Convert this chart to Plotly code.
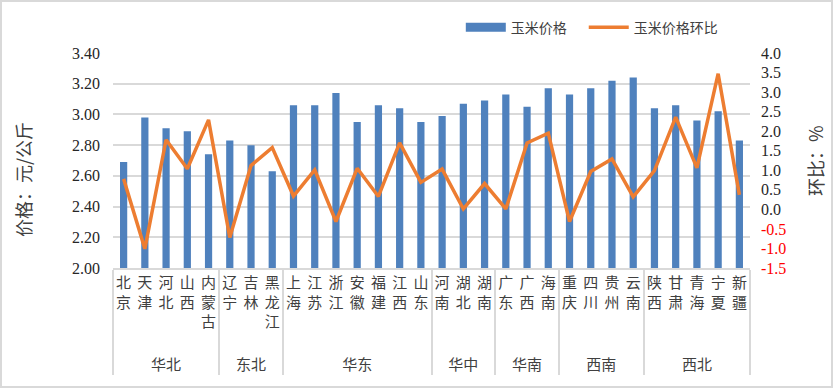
import plotly.graph_objects as go

regions = ["华北"] * 5 + ["东北"] * 3 + ["华东"] * 7 + ["华中"] * 3 + ["华南"] * 3 + ["西南"] * 4 + ["西北"] * 5
provinces = ["北京", "天津", "河北", "山西", "内蒙古",
             "辽宁", "吉林", "黑龙江",
             "上海", "江苏", "浙江", "安徽", "福建", "江西", "山东",
             "河南", "湖北", "湖南",
             "广东", "广西", "海南",
             "重庆", "四川", "贵州", "云南",
             "陕西", "甘肃", "青海", "宁夏", "新疆"]
price = [2.69, 2.98, 2.91, 2.89, 2.74,
         2.83, 2.80, 2.63,
         3.06, 3.06, 3.14, 2.95, 3.06, 3.04, 2.95,
         2.99, 3.07, 3.09,
         3.13, 3.05, 3.17,
         3.13, 3.17, 3.22, 3.24,
         3.04, 3.06, 2.96, 3.02, 2.83]
mom = [0.78, -1.01, 1.78, 1.04, 2.29,
       -0.72, 1.12, 1.58,
       0.34, 1.01, -0.31, 1.05, 0.33, 1.70, 0.69,
       1.03, 0.01, 0.66,
       0.01, 1.70, 1.95,
       -0.31, 0.97, 1.29, 0.32,
       0.99, 2.36, 1.06, 3.47, 0.37]

left_ticks = [2.00, 2.20, 2.40, 2.60, 2.80, 3.00, 3.20, 3.40]
right_ticks = [-1.5, -1.0, -0.5, 0.0, 0.5, 1.0, 1.5, 2.0, 2.5, 3.0, 3.5, 4.0]

labels = ["<br>".join(p) + "<br> " for p in provinces]
x = [regions, labels]

num_font = "Liberation Serif, Noto Sans CJK SC"
cjk_font = "Noto Sans CJK SC"
bar_color = "#4F81BD"
line_color = "#ED7D31"

fig = go.Figure()
fig.add_trace(go.Bar(x=x, y=price, name="玉米价格", marker_color=bar_color,
                     marker_line_width=0, showlegend=False))
# legend key for the bars (wide block, as in the original)
fig.add_trace(go.Scatter(x=[[regions[0]], [labels[0]]], y=[None], name="玉米价格", mode="lines",
                         line=dict(color=bar_color, width=9), legend="legend"))
fig.add_trace(go.Scatter(x=x, y=mom, name="玉米价格环比", yaxis="y2", mode="lines",
                         line=dict(color=line_color, width=3.5), legend="legend2"))

right_text = [("<span style='color:#FF0000'>%.1f</span>" % v) if v < 0 else "%.1f" % v for v in right_ticks]

legend_common = dict(orientation="h", y=1.118, xanchor="left", yanchor="middle",
                     font=dict(family=cjk_font, size=14, color="#404040"),
                     bgcolor="rgba(0,0,0,0)", itemwidth=40)

fig.update_layout(
    width=833, height=388,
    margin=dict(l=113, r=83, t=53, b=120, autoexpand=False),
    paper_bgcolor="white", plot_bgcolor="white",
    bargap=0.66,
    showlegend=True,
    legend=dict(x=0.546, **legend_common),
    legend2=dict(x=0.739, **legend_common),
    xaxis=dict(type="multicategory", showline=True, linecolor="#D9D9D9", linewidth=2,
               showgrid=False, ticks="", showdividers=True, dividercolor="#D9D9D9",
               dividerwidth=2, tickangle=0, automargin=False,
               tickfont=dict(family=cjk_font, size=15, color="#404040")),
    yaxis=dict(range=[2.0, 3.4], tickvals=left_ticks, ticktext=["%.2f" % v for v in left_ticks],
               showgrid=True, gridcolor="#D9D9D9", gridwidth=2, zeroline=False,
               showline=False, ticks="", ticklabelstandoff=12, automargin=False,
               tickfont=dict(family=num_font, size=16, color="#262626")),
    yaxis2=dict(range=[-1.5, 4.0], overlaying="y", side="right", tickvals=right_ticks,
                ticktext=right_text, showgrid=False, zeroline=False, showline=False, ticks="",
                ticklabelstandoff=10, automargin=False,
                tickfont=dict(family=num_font, size=16, color="#262626")),
    annotations=[
        dict(text="价格：元/公斤", xref="paper", yref="paper", x=(23 - 113) / 637, y=(268 - 180) / 215,
             xanchor="center", yanchor="middle", textangle=-90, showarrow=False,
             font=dict(family=cjk_font, size=18, color="#404040")),
        dict(text="环比：%", xref="paper", yref="paper", x=(815 - 113) / 637, y=(268 - 160) / 215,
             xanchor="center", yanchor="middle", textangle=-90, showarrow=False,
             font=dict(family=cjk_font, size=18, color="#404040")),
    ],
    shapes=[dict(type="rect", xref="paper", yref="paper", x0=-112/637, x1=1+82/637,
                 y0=-119/215, y1=1+52/215, line=dict(color="#D9D9D9", width=2))],
)

fig.write_html("out.html", config={"displayModeBar": False},
               post_script="document.body.style.margin='0';document.body.style.overflow='hidden';")
